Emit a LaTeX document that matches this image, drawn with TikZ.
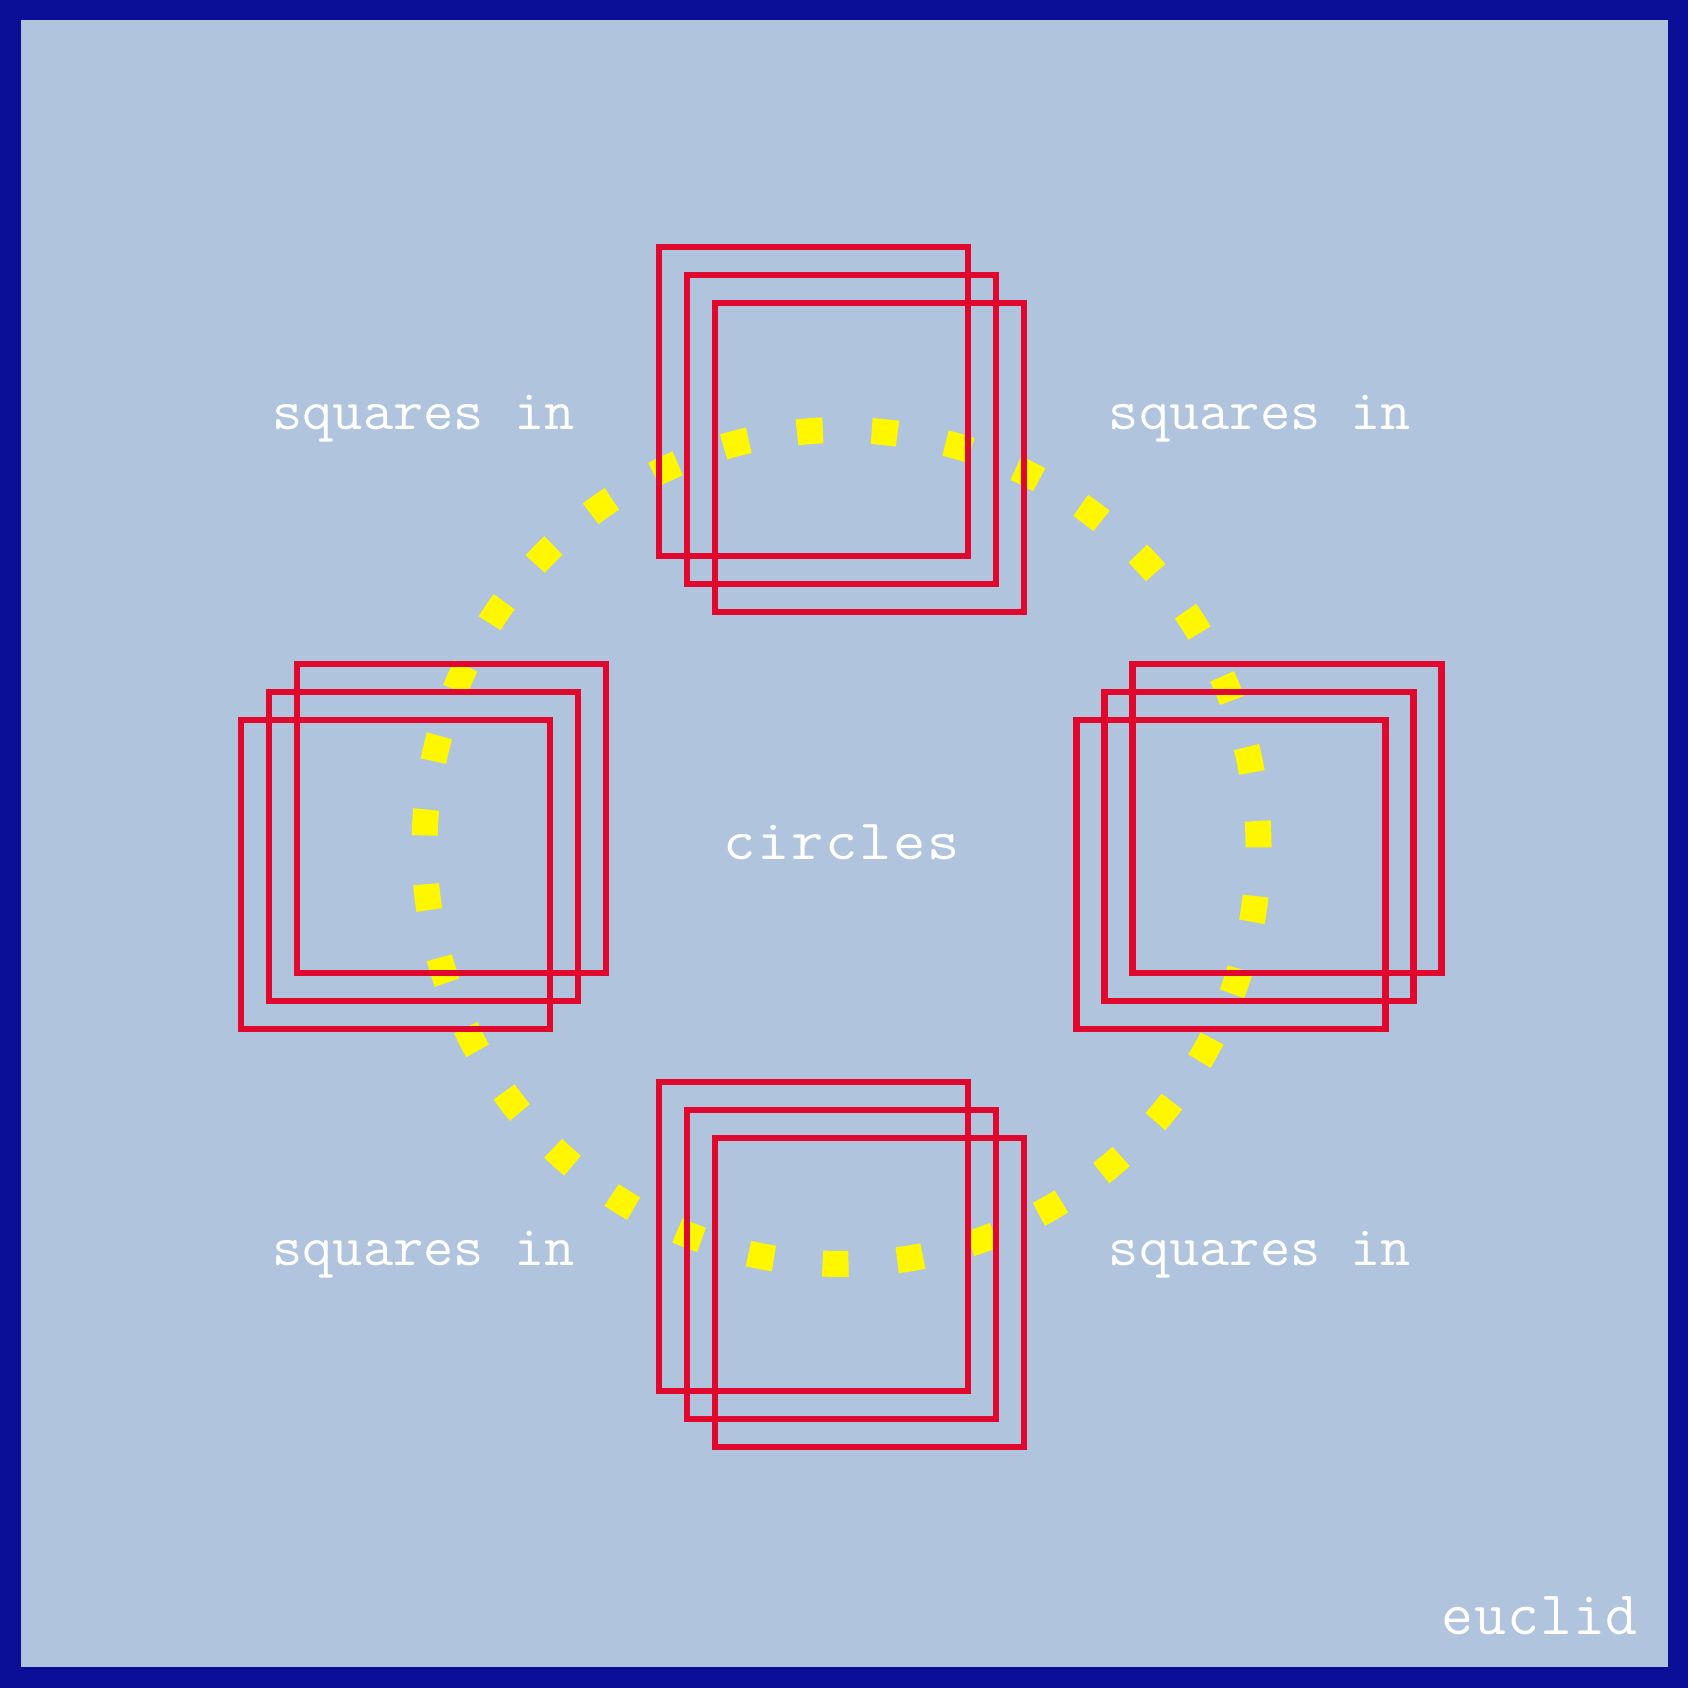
\documentclass[tikz,border=0pt]{standalone}
\usepackage{fontspec}
\newfontfamily\lmm{Latin Modern Mono}[FakeStretch=1.03]
\newfontfamily\lmmwide{Latin Modern Mono}[FakeStretch=1.10,LetterSpace=3]
\newfontfamily\lmmmid{Latin Modern Mono}[LetterSpace=1.5]
\definecolor{bgblue}{HTML}{B0C4DE}
\definecolor{frameblue}{HTML}{0B0E97}
\definecolor{sqred}{HTML}{E1082D}
\definecolor{dotyellow}{HTML}{FFF700}
\begin{document}
\begin{tikzpicture}[x=1pt,y=1pt,
  sq/.style={draw=sqred, line width=6.5pt, minimum size=309pt, inner sep=0pt, rectangle},
  lbl/.style={text=white, inner sep=0pt, anchor=base, font={\lmm\fontsize{57}{60}\selectfont}},
  ring/.style={draw=dotyellow, line width=26pt, dash pattern=on 26pt off 48.86pt}]
\useasboundingbox (0,0) rectangle (1688,1688);
\fill[frameblue] (0,0) rectangle (1688,1688);
\fill[bgblue] (20.5,20.5) rectangle (1667.5,1667.5);
\coordinate (o) at (841.5,841);
\draw[ring] (o) circle[radius=417];
% top group
\node[sq] (t1) at (813.5,1286.5) {};
\node[sq] (t2) at (841.5,1258.5) {};
\node[sq] (t3) at (869.5,1230.5) {};
% left group
\node[sq] (l1) at (451.5,869.5) {};
\node[sq] (l2) at (423.5,841.5) {};
\node[sq] (l3) at (395.5,813.5) {};
% right group
\node[sq] (r1) at (1287,869.5) {};
\node[sq] (r2) at (1259,841.5) {};
\node[sq] (r3) at (1231,813.5) {};
% bottom group
\node[sq] (b1) at (813.5,451.5) {};
\node[sq] (b2) at (841.5,423.5) {};
\node[sq] (b3) at (869.5,395.5) {};
% labels
\node[lbl] (qtl) at (423.5,1258.5) {squares in};
\node[lbl] (qtr) at (1260,1258.5) {squares in};
\node[lbl] (qbl) at (423.5,422) {squares in};
\node[lbl] (qbr) at (1260,422) {squares in};
\node[lbl, font={\lmmwide\fontsize{57}{60}\selectfont}] (circ) at (841.5,828.5) {circles};
\node[lbl, anchor=base east, font={\lmmmid\fontsize{62}{64}\selectfont}] (euc) at (1638,53) {euclid};
\end{tikzpicture}
\end{document}
